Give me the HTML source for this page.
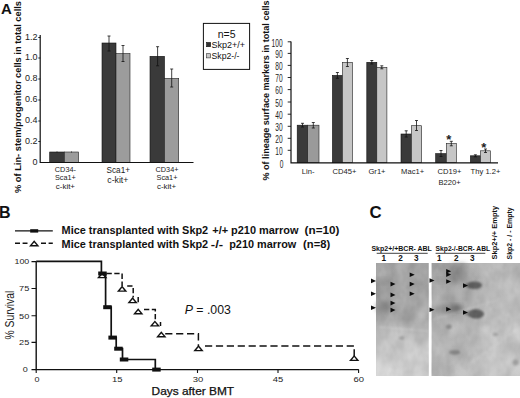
<!DOCTYPE html>
<html><head><meta charset="utf-8">
<style>
html,body{margin:0;padding:0;background:#fff;}
body{width:520px;height:398px;overflow:hidden;}
svg{display:block;font-family:"Liberation Sans",sans-serif;}
</style></head><body>
<svg width="520" height="398" viewBox="0 0 520 398">
<defs>
<filter id="b1" x="-50%" y="-50%" width="200%" height="200%"><feGaussianBlur stdDeviation="1.2"/></filter>
<filter id="b2" x="-50%" y="-50%" width="200%" height="200%"><feGaussianBlur stdDeviation="2.5"/></filter>
<filter id="b3" x="-50%" y="-50%" width="200%" height="200%"><feGaussianBlur stdDeviation="5"/></filter>
<filter id="noise" x="0" y="0" width="100%" height="100%" color-interpolation-filters="sRGB">
<feTurbulence type="fractalNoise" baseFrequency="0.07 0.05" numOctaves="3" seed="7"/>
<feColorMatrix type="matrix" values="0.6 0.6 0.6 0 -0.25  0.6 0.6 0.6 0 -0.25  0.6 0.6 0.6 0 -0.25  0 0 0 0 0.16"/>
</filter>
<linearGradient id="gL" x1="0" y1="0" x2="0" y2="1">
<stop offset="0" stop-color="#a0a0a0"/><stop offset="0.38" stop-color="#a3a3a3"/><stop offset="0.5" stop-color="#a4a4a4"/><stop offset="0.63" stop-color="#c2c2c2"/><stop offset="0.78" stop-color="#cdcdcd"/><stop offset="1" stop-color="#d5d5d5"/>
</linearGradient>
<linearGradient id="gR" x1="0" y1="0" x2="0" y2="1">
<stop offset="0" stop-color="#a2a2a2"/><stop offset="0.42" stop-color="#a8a8a8"/><stop offset="0.58" stop-color="#b2b2b2"/><stop offset="1" stop-color="#b9b9b9"/>
</linearGradient>
<linearGradient id="gRx" x1="0" y1="0" x2="1" y2="0">
<stop offset="0" stop-color="#fff" stop-opacity="0"/><stop offset="0.42" stop-color="#fff" stop-opacity="0.04"/><stop offset="0.62" stop-color="#fff" stop-opacity="0.24"/><stop offset="1" stop-color="#fff" stop-opacity="0.27"/>
</linearGradient>
<path id="ah" d="M0,-2.3 L5,0 L0,2.3 Z" fill="#0c0c0c"/>
<g id="tri"><path d="M-5.2,3 L0,-3.1 L5.2,3 Z" fill="#111"/><path d="M-2.2,1.7 L0,-0.9 L2.2,1.7 Z" fill="#fff"/></g>
<rect id="sq" x="-4" y="-2" width="8.5" height="4" fill="#111"/>
</defs>
<rect width="520" height="398" fill="#fff"/>

<!-- ===== Panel A left ===== -->
<g id="pa1">
<text x="1" y="13.9" font-size="15" font-weight="bold" fill="#111">A</text>
<text transform="translate(21,193) rotate(-90)" font-size="8.5" font-weight="bold" fill="#111" textLength="192" lengthAdjust="spacingAndGlyphs">% of Lin-  stem/progenitor cells in total cells</text>
<g fill="#3a3a3a" stroke="#111" stroke-width="0.6">
<rect x="49.7" y="152" width="14.6" height="10.5"/>
<rect x="102" y="43" width="14" height="119.5"/>
<rect x="150" y="56.3" width="14.5" height="106.2"/>
</g>
<g fill="#9c9c9c" stroke="#222" stroke-width="0.6">
<rect x="64.3" y="152" width="14.3" height="10.5"/>
<rect x="116" y="53.5" width="14" height="109"/>
<rect x="164.5" y="78.4" width="14.2" height="84.1"/>
</g>
<g stroke="#111" stroke-width="0.8" fill="none">
<path d="M109,36 V51 M107.5,36 h3 M107.5,51 h3"/>
<path d="M123,45.5 V61.5 M121.5,45.5 h3 M121.5,61.5 h3"/>
<path d="M157.6,46.7 V65.8 M156.1,46.7 h3 M156.1,65.8 h3"/>
<path d="M171.7,69 V87 M170.2,69 h3 M170.2,87 h3"/>
<path d="M57,151.5 v1 M71.5,151.5 v1"/>
</g>
<path d="M40.2,35 V162.5 H193.5" stroke="#111" stroke-width="1.2" fill="none"/>
<g stroke="#111" stroke-width="0.9"><path d="M38.3,37.5 h2 M38.3,58 h2 M38.3,79 h2 M38.3,100 h2 M38.3,121 h2 M38.3,141.5 h2"/></g>
<g font-size="9" fill="#222" text-anchor="end">
<text x="37.5" y="39.9">1.2</text><text x="37.5" y="60.4">1.0</text><text x="37.5" y="81.4">0.8</text><text x="37.5" y="102.4">0.6</text><text x="37.5" y="123.4">0.4</text><text x="37.5" y="143.9">0.2</text><text x="37.5" y="165.4">0</text>
</g>
<g font-size="7.3" fill="#222" text-anchor="middle">
<text x="65.4" y="172">CD34-</text><text x="65.4" y="180.4">Sca1+</text><text x="65.4" y="189.3" font-size="7.9">c-kit+</text>
<text x="118.3" y="172.8" font-size="8.2">Sca1+</text><text x="117.8" y="182.8" font-size="8.7">c-kit+</text>
<text x="167" y="172">CD34+</text><text x="167" y="180.4">Sca1+</text><text x="166.6" y="189.3" font-size="7.9">c-kit+</text>
</g>
<!-- legend -->
<rect x="203.4" y="23.4" width="46.2" height="46" fill="#fff" stroke="#111" stroke-width="1"/>
<text x="226.7" y="38" font-size="10.5" fill="#111" text-anchor="middle">n=5</text>
<rect x="206.6" y="42.5" width="4" height="4.2" fill="#333" stroke="#111" stroke-width="0.6"/>
<rect x="206.6" y="53.7" width="4" height="4.2" fill="#c8c8c8" stroke="#333" stroke-width="0.6"/>
<text x="211.5" y="48" font-size="9" fill="#111" textLength="33.5" lengthAdjust="spacingAndGlyphs">Skp2+/+</text>
<text x="211.5" y="59" font-size="9" fill="#111" textLength="28" lengthAdjust="spacingAndGlyphs">Skp2-/-</text>
</g>

<!-- ===== Panel A right ===== -->
<g id="pa2">
<text transform="translate(268.5,180.5) rotate(-90)" font-size="8.5" font-weight="bold" fill="#111" textLength="180" lengthAdjust="spacingAndGlyphs">% of  lineage surface markers in total cells</text>
<g fill="#3a3a3a" stroke="#111" stroke-width="0.6">
<rect x="297.2" y="125.2" width="10.5" height="37.5"/>
<rect x="332.4" y="75.4" width="10" height="87.3"/>
<rect x="366.8" y="62.3" width="10" height="100.4"/>
<rect x="401" y="134" width="10.4" height="28.7"/>
<rect x="435.7" y="153.6" width="10.6" height="9.1"/>
<rect x="470.4" y="155.8" width="10.1" height="6.9"/>
</g>
<g stroke="#222" stroke-width="0.6">
<rect x="307.7" y="125.2" width="11.3" height="37.5" fill="#9a9a9a"/>
<rect x="342.4" y="62.3" width="10.1" height="100.4" fill="#c6c6c6"/>
<rect x="376.8" y="67.3" width="10.1" height="95.4" fill="#c6c6c6"/>
<rect x="411.4" y="125.7" width="10.3" height="37" fill="#c6c6c6"/>
<rect x="446.3" y="143.5" width="10" height="19.2" fill="#c6c6c6"/>
<rect x="480.5" y="150.8" width="10" height="11.9" fill="#c6c6c6"/>
</g>
<g stroke="#111" stroke-width="0.8" fill="none">
<path d="M302.5,123.3 V127 M301,123.3 h3 M301,127 h3"/>
<path d="M313.3,122.5 V128 M311.8,122.5 h3 M311.8,128 h3"/>
<path d="M337.4,72.5 V78.3 M335.9,72.5 h3 M335.9,78.3 h3"/>
<path d="M347.4,58.5 V66.5 M345.9,58.5 h3 M345.9,66.5 h3"/>
<path d="M371.8,60.5 V64 M370.3,60.5 h3 M370.3,64 h3"/>
<path d="M381.8,65.8 V68.8 M380.3,65.8 h3 M380.3,68.8 h3"/>
<path d="M406.2,130.8 V137 M404.7,130.8 h3 M404.7,137 h3"/>
<path d="M416.5,120.5 V130.5 M415,120.5 h3 M415,130.5 h3"/>
<path d="M441,150.5 V156.5 M439.5,150.5 h3 M439.5,156.5 h3"/>
<path d="M451.3,141.3 V145.8 M449.8,141.3 h3 M449.8,145.8 h3"/>
<path d="M475.4,154.8 V156.8 M473.9,154.8 h3 M473.9,156.8 h3"/>
<path d="M485.5,149 V152.5 M484,149 h3 M484,152.5 h3"/>
</g>
<path d="M291,41.5 V162.8 H498" stroke="#111" stroke-width="1.2" fill="none"/>
<g stroke="#111" stroke-width="0.9"><path d="M287.7,41.8 h3.3 M287.7,53.4 h3.3 M287.7,65.4 h3.3 M287.7,77.5 h3.3 M287.7,89.6 h3.3 M287.7,102 h3.3 M287.7,114.2 h3.3 M287.7,126.3 h3.3 M287.7,138.3 h3.3 M287.7,150.3 h3.3"/></g>
<g font-size="11" fill="#222" text-anchor="end" transform="scale(0.6,1)">
<text x="471" y="47.1">100</text><text x="471" y="58">90</text><text x="471" y="70.1">80</text><text x="471" y="82.1">70</text><text x="471" y="94.2">60</text><text x="471" y="106.9">50</text><text x="471" y="119">40</text><text x="471" y="131">30</text><text x="471" y="143">20</text><text x="471" y="155">10</text><text x="472.5" y="167.8">0</text>
</g>
<g font-size="7.6" fill="#222" text-anchor="middle">
<text x="308.2" y="174">Lin-</text><text x="344.5" y="174">CD45+</text><text x="377" y="174">Gr1+</text><text x="412.6" y="174">Mac1+</text><text x="449.5" y="174">CD19+</text><text x="449.5" y="184.5">B220+</text><text x="485.5" y="174">Thy 1.2+</text>
</g>
<g font-size="13" font-weight="bold" fill="#222" text-anchor="middle"><text x="448.8" y="144.3">*</text><text x="483.7" y="152.3">*</text></g>
</g>

<!-- ===== Panel B ===== -->
<g id="pb">
<text x="-1" y="217.6" font-size="16" font-weight="bold" fill="#111">B</text>
<path d="M15,230.9 H52.8" stroke="#111" stroke-width="1.3"/>
<rect x="30.2" y="229.2" width="8" height="3.4" fill="#111"/>
<path d="M15,243.2 H27.5 M41,243.2 H52.8" stroke="#111" stroke-width="1.5" stroke-dasharray="5,2.6"/>
<use href="#tri" x="34.2" y="243.4"/>
<g font-size="10.8" font-weight="bold" fill="#111">
<text x="61.6" y="233.5" textLength="146.6" lengthAdjust="spacingAndGlyphs">Mice transplanted with Skp2</text>
<text x="212.3" y="233.5" textLength="86.2" lengthAdjust="spacingAndGlyphs">+/+ p210 marrow</text>
<text x="304.6" y="233.5" textLength="34.8" lengthAdjust="spacingAndGlyphs">(n=10)</text>
<text x="61.6" y="248" textLength="146.6" lengthAdjust="spacingAndGlyphs">Mice transplanted with Skp2</text>
<text x="210.8" y="248" textLength="12.3" lengthAdjust="spacingAndGlyphs">-/-</text>
<text x="229.2" y="248" textLength="67.1" lengthAdjust="spacingAndGlyphs">p210 marrow</text>
<text x="303.1" y="248" textLength="27.1" lengthAdjust="spacingAndGlyphs">(n=8)</text>
</g>

<!-- axes -->
<path d="M36.2,261.4 V369.6 H358.8" stroke="#111" stroke-width="1.4" fill="none"/>
<g stroke="#111" stroke-width="1.1"><path d="M31.5,261.6 h4.7 M31.5,288.5 h4.7 M31.5,315.8 h4.7 M31.5,342.4 h4.7 M31.5,369.6 h4.7 M36.2,369.6 v3.4 M116.7,369.6 v3.4 M197.5,369.6 v3.4 M278,369.6 v3.4 M358.6,369.6 v3.4"/></g>
<g font-size="8" fill="#222" text-anchor="end">
<text x="29.3" y="264.4" textLength="14.8" lengthAdjust="spacingAndGlyphs">100</text><text x="29.3" y="291.3" textLength="10.2" lengthAdjust="spacingAndGlyphs">75</text><text x="29.3" y="318.6" textLength="10.2" lengthAdjust="spacingAndGlyphs">50</text><text x="29.3" y="345.2" textLength="10.2" lengthAdjust="spacingAndGlyphs">25</text><text x="27.8" y="372.4" textLength="5" lengthAdjust="spacingAndGlyphs">0</text>
</g>
<g font-size="8.1" fill="#222" text-anchor="middle">
<text x="37" y="381.8" textLength="5" lengthAdjust="spacingAndGlyphs">0</text><text x="117.2" y="381.8" textLength="10.5" lengthAdjust="spacingAndGlyphs">15</text><text x="197.9" y="381.8" textLength="10.5" lengthAdjust="spacingAndGlyphs">30</text><text x="278" y="381.8" textLength="10.5" lengthAdjust="spacingAndGlyphs">45</text><text x="358.8" y="381.8" textLength="10.5" lengthAdjust="spacingAndGlyphs">60</text>
</g>
<text transform="translate(13.9,339.6) rotate(-90) scale(0.763,1)" font-size="13.6" fill="#222">% Survival</text>
<text x="151.6" y="394.9" font-size="10.5" fill="#111" stroke="#111" stroke-width="0.25" textLength="82.5" lengthAdjust="spacingAndGlyphs">Days after BMT</text>
<text x="184.7" y="314.4" font-size="12.3" fill="#111"><tspan font-style="italic">P</tspan> = .003</text>
<!-- dashed KM -->
<path d="M106.5,273.6 H122.1 V286 M127.2,286.1 H133.2 V297.5 M138.2,297 V303 M144,309.6 H155.3 V321 M160.5,322 V326" stroke="#111" stroke-width="1.5" fill="none" stroke-dasharray="5.3,2.5"/>
<path d="M165.2,333.8 H198.4 V346 M205,345.9 H354.2 V356" stroke="#111" stroke-width="1.5" fill="none" stroke-dasharray="7.2,3.7"/>
<use href="#tri" x="102.2" y="275.2"/>
<use href="#tri" x="122.1" y="288.7"/>
<use href="#tri" x="132.6" y="300.2"/>
<use href="#tri" x="138.2" y="311.4"/>
<use href="#tri" x="154.9" y="323.5"/>
<use href="#tri" x="161.3" y="334.4"/>
<use href="#tri" x="198.5" y="348.2"/>
<use href="#tri" x="354.2" y="358"/>
<!-- solid KM -->
<path d="M36.2,261.4 H101.4 V273.5 H105.6 V307.2 H111.2 V337.6 H116.2 V348.7 H122.5 V359.5 H155.3 V369.6" stroke="#111" stroke-width="1.7" fill="none"/>
<use href="#sq" x="102.2" y="273.5"/>
<use href="#sq" x="107.2" y="307.2"/>
<use href="#sq" x="112.4" y="337.6"/>
<use href="#sq" x="118.2" y="348.7"/>
<use href="#sq" x="123.8" y="359.5"/>
<use href="#sq" x="156.2" y="369.6"/>
</g>

<!-- ===== Panel C ===== -->
<g id="pc">
<text x="369.6" y="218.2" font-size="16.8" font-weight="bold" fill="#111">C</text>
<text x="371.4" y="251" font-size="7.8" font-weight="bold" fill="#111" textLength="60.5" lengthAdjust="spacingAndGlyphs">Skp2+/+BCR- ABL</text>
<text x="435.6" y="251" font-size="7.8" font-weight="bold" fill="#111" textLength="54.5" lengthAdjust="spacingAndGlyphs">Skp2-/-BCR- ABL</text>
<path d="M376.7,253.3 H427.7 M435.6,253.3 H485.3" stroke="#111" stroke-width="0.8"/>
<g font-size="8.2" font-weight="bold" fill="#111" text-anchor="middle">
<text x="383.7" y="260.8">1</text><text x="400.6" y="260.8">2</text><text x="416.3" y="260.8">3</text>
<text x="439.4" y="260.8">1</text><text x="456.3" y="260.8">2</text><text x="472.3" y="260.8">3</text>
</g>
<text transform="translate(497.3,259.4) rotate(-90)" font-size="6.4" font-weight="bold" fill="#111" textLength="53.5" lengthAdjust="spacingAndGlyphs">Skp2+/+ Empty</text>
<text transform="translate(512,259.4) rotate(-90)" font-size="6.4" font-weight="bold" fill="#111" textLength="52" lengthAdjust="spacingAndGlyphs">Skp2 - / - Empty</text>
<!-- blot -->
<rect x="376" y="263" width="52.7" height="113" fill="url(#gL)"/>
<rect x="431.7" y="263" width="88.3" height="113" fill="url(#gR)"/>
<rect x="431.7" y="263" width="88.3" height="113" fill="url(#gRx)"/>
<g id="blobs">
<ellipse cx="385" cy="307" rx="9" ry="6" fill="#828282" opacity="0.8" filter="url(#b2)"/>
<ellipse cx="383" cy="281" rx="7" ry="2.5" fill="#8a8a8a" opacity="0.7" filter="url(#b2)"/>
<ellipse cx="418" cy="284" rx="6" ry="3" fill="#8c8c8c" opacity="0.6" filter="url(#b2)"/>
<rect x="396" y="265" width="8" height="45" fill="#b4b4b4" opacity="0.5" filter="url(#b2)"/>
<rect x="419" y="290" width="8" height="30" fill="#b8b8b8" opacity="0.6" filter="url(#b2)"/>
<rect x="451" y="264" width="15" height="19" fill="#808080" opacity="0.85" filter="url(#b2)"/>
<ellipse cx="440" cy="280.5" rx="7" ry="2.2" fill="#8e8e8e" opacity="0.8" filter="url(#b2)"/>
<ellipse cx="446" cy="309.3" rx="14" ry="3.2" fill="#7c7c7c" opacity="0.85" filter="url(#b2)"/>
<ellipse cx="457" cy="308" rx="5" ry="3" fill="#666" opacity="0.9" filter="url(#b2)"/>
<ellipse cx="470" cy="285.3" rx="6" ry="2.2" fill="#707070" filter="url(#b1)"/>
<ellipse cx="470.5" cy="313.5" rx="6" ry="2.6" fill="#6c6c6c" filter="url(#b1)"/>
<ellipse cx="474.8" cy="285.2" rx="7.2" ry="3.8" fill="#545454" filter="url(#b1)"/>
<ellipse cx="476.2" cy="313.9" rx="7.8" ry="4.6" fill="#505050" filter="url(#b1)"/>
<ellipse cx="449.2" cy="326.8" rx="2.8" ry="2.2" fill="#808080" filter="url(#b1)"/>
<ellipse cx="454.6" cy="352.3" rx="5.4" ry="2.4" fill="#808080" filter="url(#b1)"/>
<ellipse cx="401.7" cy="338" rx="2.6" ry="1.7" fill="#9a9a9a" filter="url(#b1)"/>
<ellipse cx="495.2" cy="334.5" rx="2.6" ry="2.1" fill="#999" filter="url(#b1)"/>
<ellipse cx="515.5" cy="362.5" rx="3" ry="3" fill="#a2a2a2" filter="url(#b1)"/>
<ellipse cx="449" cy="371" rx="4" ry="3" fill="#a6a6a6" filter="url(#b2)"/>
<ellipse cx="483.8" cy="330" rx="3" ry="3.5" fill="#d6d6d6" filter="url(#b2)"/>
<path d="M432,320 L500,299" stroke="#d0d0d0" stroke-width="1.2" opacity="0.6" filter="url(#b1)"/>
<path d="M467,366 L516,330" stroke="#d0d0d0" stroke-width="1.5" opacity="0.6" filter="url(#b1)"/>
<path d="M378,327 L428,331" stroke="#dcdcdc" stroke-width="1" opacity="0.7" filter="url(#b1)"/>
</g>
<rect x="376" y="263" width="52.7" height="113" filter="url(#noise)"/>
<rect x="431.7" y="263" width="88.3" height="113" filter="url(#noise)"/>
<g id="arrows">
<use href="#ah" x="371" y="280.9"/><use href="#ah" x="371" y="293.8"/><use href="#ah" x="371" y="307.8"/>
<use href="#ah" x="390.5" y="284.1"/><use href="#ah" x="390.5" y="294.9"/><use href="#ah" x="390.5" y="303.1"/><use href="#ah" x="390.5" y="310.1"/>
<use href="#ah" x="409.7" y="274.7"/><use href="#ah" x="409.7" y="284.1"/><use href="#ah" x="409.7" y="293.8"/>
<use href="#ah" x="429.5" y="280.5"/><use href="#ah" x="429.5" y="309.8"/>
<use href="#ah" x="446.2" y="271.3"/><use href="#ah" x="446.2" y="274.6"/><use href="#ah" x="446.2" y="281.5"/><use href="#ah" x="446.2" y="309.2"/>
<use href="#ah" x="463" y="285.6"/><use href="#ah" x="463" y="312.5"/>
</g>
</g>
</svg>
</body></html>
